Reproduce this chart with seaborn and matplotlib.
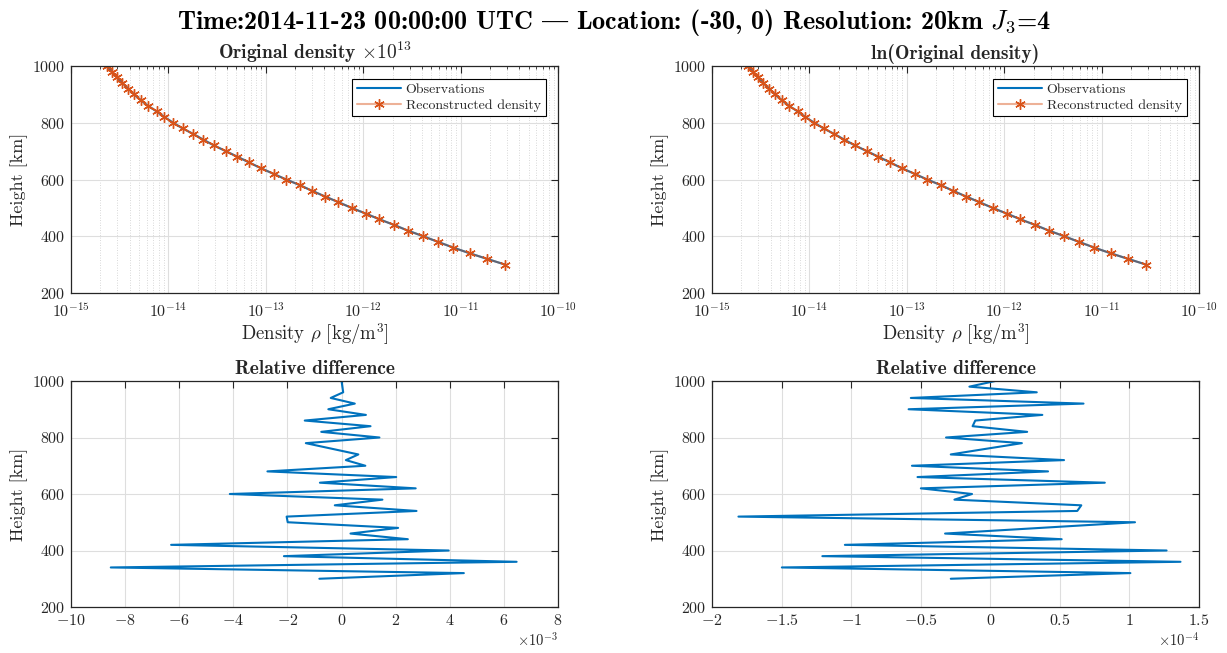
import numpy as np
import pandas as pd
import seaborn as sns
import matplotlib
matplotlib.use("Agg")
import matplotlib.pyplot as plt
from matplotlib.ticker import FixedLocator, FuncFormatter, LogLocator, NullFormatter

# ---------------- data ----------------
height_km = [1000, 980, 960, 940, 920, 900, 880, 860, 840, 820, 800, 780, 760, 740,
             720, 700, 680, 660, 640, 620, 600, 580, 560, 540, 520, 500, 480, 460,
             440, 420, 400, 380, 360, 340, 320, 300]

rho_observed = [2.32e-15, 2.62e-15, 2.94e-15, 3.37e-15, 3.88e-15, 4.44e-15, 5.20e-15,
                6.14e-15, 7.59e-15, 9.10e-15, 1.12e-14, 1.40e-14, 1.81e-14, 2.29e-14,
                2.94e-14, 3.88e-14, 5.12e-14, 6.75e-14, 8.89e-14, 1.20e-13, 1.62e-13,
                2.24e-13, 2.99e-13, 4.07e-13, 5.57e-13, 7.60e-13, 1.06e-12, 1.46e-12,
                2.07e-12, 2.87e-12, 4.14e-12, 5.87e-12, 8.41e-12, 1.24e-11, 1.88e-11,
                2.87e-11]

rho_reconstructed = [2.32e-15, 2.62e-15, 2.94e-15, 3.37e-15, 3.88e-15, 4.44e-15, 5.20e-15,
                     6.14e-15, 7.59e-15, 9.10e-15, 1.12e-14, 1.40e-14, 1.81e-14, 2.29e-14,
                     2.94e-14, 3.88e-14, 5.12e-14, 6.75e-14, 8.89e-14, 1.20e-13, 1.62e-13,
                     2.24e-13, 2.99e-13, 4.07e-13, 5.57e-13, 7.60e-13, 1.06e-12, 1.46e-12,
                     2.07e-12, 2.87e-12, 4.14e-12, 5.87e-12, 8.41e-12, 1.24e-11, 1.88e-11,
                     2.87e-11]

# relative difference, original density (units of 1e-3)
reldiff_orig_e3 = [0.00, 0.03, 0.06, -0.40, 0.49, -0.49, 0.90, -1.36, 1.07, -0.75, 1.40,
                   -1.32, -0.35, 0.62, 0.16, 0.88, -2.74, 2.02, -0.80, 2.74, -4.13, 1.51,
                   -0.25, 2.77, -2.03, -1.99, 2.09, 0.33, 2.45, -6.30, 3.96, -2.13, 6.47,
                   -8.53, 4.52, -0.82]

# relative difference, ln(original density) (units of 1e-4)
reldiff_ln_e4 = [0.036, -0.150, 0.334, -0.571, 0.670, -0.587, 0.374, -0.108, -0.127, 0.265,
                 -0.318, 0.227, -0.030, -0.284, 0.530, -0.563, 0.415, -0.523, 0.823, -0.499,
                 -0.131, -0.258, 0.654, 0.625, -1.810, 1.040, 0.360, -0.325, 0.513, -1.045,
                 1.267, -1.207, 1.367, -1.498, 1.007, -0.284]

x_log_ticks = [1e-15, 1e-14, 1e-13, 1e-12, 1e-11, 1e-10]
y_ticks = [200, 400, 600, 800, 1000]

# in the Computer Modern (OT1) bold font the "|" slot holds the em dash
suptitle_text = r"Time:2014-11-23 00:00:00 UTC | Location: (-30, 0) Resolution: 20km $J_3$=4"
top_titles = [r"Original density $\times10^{13}$", "ln(Original density)"]
bottom_title = "Relative difference"
series_names = ["Observations", "Reconstructed density"]

# ---------------- style ----------------
sns.set_theme(style="white")
plt.rcParams["font.family"] = ["cmr10", "DejaVu Serif"]
plt.rcParams["mathtext.fontset"] = "cm"
plt.rcParams["axes.unicode_minus"] = False
plt.rcParams["axes.formatter.use_mathtext"] = True

BLUE = "#0072BD"
ORANGE = "#D95319"
EDGE = "#262626"
BOLD = ["cmb10", "DejaVu Serif"]

fig = plt.figure(figsize=(12.27, 6.53), dpi=100)

L1, W = 71 / 1227, 487 / 1227
L2 = 712 / 1227
H = 227 / 653
top_y = 1 - 293 / 653
bot_y = 1 - 607 / 653
ax_tl = fig.add_axes([L1, top_y, W, H])
ax_tr = fig.add_axes([L2, top_y, W, H])
ax_bl = fig.add_axes([L1, bot_y, W, 226 / 653])
ax_br = fig.add_axes([L2, bot_y, W, 226 / 653])


def style_axes(ax):
    for s in ax.spines.values():
        s.set_color(EDGE)
        s.set_linewidth(0.9)
    ax.tick_params(which="both", direction="in", top=True, right=True,
                   colors=EDGE, labelsize=11.5, labelcolor=EDGE)
    ax.tick_params(which="major", length=5, width=0.8, pad=4)
    ax.tick_params(which="minor", length=2.5, width=0.6)
    ax.set_axisbelow(True)


dens_df = pd.DataFrame({"h": height_km, "obs": rho_observed, "rec": rho_reconstructed})

for ax, ttl in zip([ax_tl, ax_tr], top_titles):
    sns.lineplot(data=dens_df, x="obs", y="h", sort=False, estimator=None, orient="y",
                 ax=ax, color=BLUE, linewidth=1.5, label=series_names[0])
    sns.lineplot(data=dens_df, x="rec", y="h", sort=False, estimator=None, orient="y",
                 ax=ax, color=ORANGE, linewidth=1.5,
                 marker=(6, 2, 0), markersize=7.5, markeredgewidth=1.0,
                 markeredgecolor=ORANGE, label=series_names[1])
    # lighten only the reconstructed line (not the markers)
    ln = ax.lines[-1]
    ln.set_alpha(None)
    ln.set_color((0.851, 0.325, 0.098, 0.45))
    ln.set_markeredgecolor(ORANGE)
    ln.set_markerfacecolor(ORANGE)
    ax.set_xscale("log")
    ax.set_xlim(1e-15, 1e-10)
    ax.set_ylim(200, 1000)
    ax.xaxis.set_major_locator(FixedLocator(x_log_ticks))
    ax.xaxis.set_minor_locator(LogLocator(base=10, subs=np.arange(2, 10), numticks=50))
    ax.xaxis.set_minor_formatter(NullFormatter())
    ax.yaxis.set_major_locator(FixedLocator(y_ticks))
    style_axes(ax)
    ax.tick_params(axis="x", which="major", pad=6)
    ax.grid(True, which="major", axis="both", color="#dedede", linewidth=0.8)
    ax.grid(True, which="minor", axis="x", color="#cccccc", linewidth=0.6, linestyle=(0, (1, 2)))
    ax.set_title(ttl, fontsize=14, fontfamily=BOLD, pad=5)
    ax.set_xlabel(r"Density $\rho$ [kg/m$^3$]", fontsize=13.5, color=EDGE, labelpad=1)
    ax.set_ylabel("Height [km]", fontsize=13, color=EDGE, labelpad=3)
    leg = ax.legend(loc="upper right", fontsize=10, frameon=True, fancybox=False,
                    edgecolor="black", framealpha=1, handlelength=3.2,
                    borderaxespad=0.9, borderpad=0.35, labelspacing=0.2, handletextpad=0.3)
    leg.get_frame().set_linewidth(0.8)

diff_df = pd.DataFrame({"h": height_km,
                        "d1": np.array(reldiff_orig_e3) * 1e-3,
                        "d2": np.array(reldiff_ln_e4) * 1e-4})

for ax, col, lim, ticks, scale, off in [
        (ax_bl, "d1", (-10e-3, 8e-3), np.arange(-10, 9, 2), 1e-3, r"$\times10^{-3}$"),
        (ax_br, "d2", (-2e-4, 1.5e-4), np.arange(-2, 1.51, 0.5), 1e-4, r"$\times10^{-4}$")]:
    sns.lineplot(data=diff_df, x=col, y="h", sort=False, estimator=None, orient="y",
                 ax=ax, color=BLUE, linewidth=1.5)
    ax.set_xlim(*lim)
    ax.set_ylim(200, 1000)
    ax.xaxis.set_major_locator(FixedLocator(ticks * scale))
    ax.xaxis.set_major_formatter(FuncFormatter(lambda v, p, s=scale: "$%g$" % round(v / s, 6)))
    ax.yaxis.set_major_locator(FixedLocator(y_ticks))
    style_axes(ax)
    ax.grid(True, which="major", color="#dedede", linewidth=0.8)
    ax.set_title(bottom_title, fontsize=14, fontfamily=BOLD, pad=5)
    ax.set_xlabel("")
    ax.set_ylabel("Height [km]", fontsize=13, color=EDGE, labelpad=3)
    ax.text(1.0, -0.105, off, transform=ax.transAxes, ha="right", va="top",
            fontsize=10.5, color=EDGE)

fig.suptitle(suptitle_text, fontsize=18.8, fontfamily=BOLD, y=0.99, color="black")

fig.savefig("out.png", dpi=100)
